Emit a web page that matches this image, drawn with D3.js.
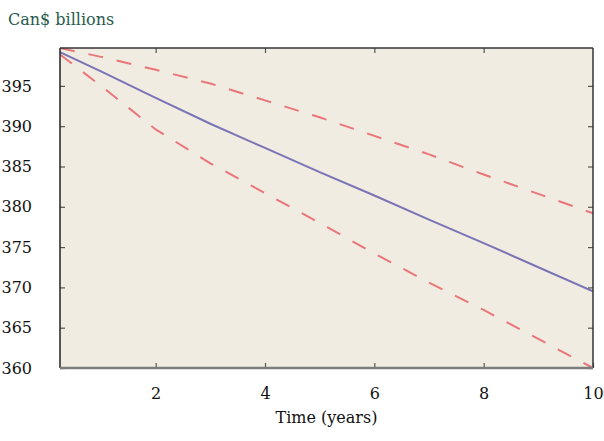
<!DOCTYPE html>
<html><head><meta charset="utf-8">
<script src="https://cdn.jsdelivr.net/npm/d3@7"></script>
<style>body{margin:0;background:#fff}svg{display:block}</style>
</head><body>
<script>
const times = [0.25, 1, 2, 3, 4, 5, 6, 7, 8, 9, 10];
const central = [399.2, 396.8, 393.5, 390.3, 387.3, 384.3, 381.4, 378.4, 375.5, 372.5, 369.5];
const upperBand = [399.7, 398.6, 397.0, 395.3, 393.2, 391.1, 388.8, 386.5, 384.0, 381.6, 379.2];
const lowerBand = [398.9, 395.0, 389.6, 385.4, 381.7, 378.0, 374.2, 370.6, 367.2, 363.6, 360.0];
const xTicks = [2, 4, 6, 8, 10];
const yTicks = [360, 365, 370, 375, 380, 385, 390, 395];
const title = "Can$ billions";
const xTitle = "Time (years)";

const W = 604, H = 441;
const L = 60, R = 593, T = 48, B = 368;
const font = "'DejaVu Serif', serif";

const svg = d3.select("body").append("svg").attr("width", W).attr("height", H);
const x = d3.scaleLinear().domain([0.25, 10]).range([L, R]);
const y = d3.scaleLinear().domain([360, 399.7]).range([B, T]);

svg.append("rect").attr("x", L).attr("y", T).attr("width", R - L).attr("height", B - T).attr("fill", "#f1ece1");

svg.append("clipPath").attr("id", "clip").append("rect")
  .attr("x", L).attr("y", T).attr("width", R - L).attr("height", B - T);

const line = d3.line().x(d => x(d[0])).y(d => y(d[1]));
const g = svg.append("g").attr("clip-path", "url(#clip)");
const mk = arr => times.map((t, i) => [t, arr[i]]);
g.append("path").attr("d", line(mk(upperBand))).attr("fill", "none")
  .attr("stroke", "#e8767a").attr("stroke-width", 2).attr("stroke-dasharray", "15,14");
g.append("path").attr("d", line(mk(lowerBand))).attr("fill", "none")
  .attr("stroke", "#e8767a").attr("stroke-width", 2).attr("stroke-dasharray", "15,14");
g.append("path").attr("d", line(mk(central))).attr("fill", "none")
  .attr("stroke", "#7a74b6").attr("stroke-width", 2);

function style(sel, showText) {
  sel.select(".domain").remove();
  sel.selectAll(".tick line").attr("stroke", "#555").attr("stroke-width", 1.2);
  sel.selectAll(".tick text").attr("fill", "#111").style("font-family", font).style("font-size", "16px");
  if (!showText) sel.selectAll(".tick text").remove();
}

svg.append("g").attr("transform", `translate(${L},0)`)
  .call(d3.axisLeft(y).tickValues(yTicks).tickSize(-5).tickPadding(28))
  .call(s => style(s, true));
svg.append("g").attr("transform", `translate(${R},0)`)
  .call(d3.axisRight(y).tickValues(yTicks).tickSize(-5))
  .call(s => style(s, false));
svg.append("g").attr("transform", `translate(0,${B})`)
  .call(d3.axisBottom(x).tickValues(xTicks).tickSize(-5).tickPadding(19.5))
  .call(s => style(s, true));
svg.append("g").attr("transform", `translate(0,${T})`)
  .call(d3.axisTop(x).tickValues(xTicks.slice(0, 4)).tickSize(-5))
  .call(s => style(s, false));

// frame
svg.append("line").attr("x1", L).attr("x2", L).attr("y1", T).attr("y2", B).attr("stroke", "#222").attr("stroke-width", 1.5);
svg.append("line").attr("x1", L).attr("x2", R).attr("y1", T).attr("y2", T).attr("stroke", "#333").attr("stroke-width", 1.5);
svg.append("line").attr("x1", R).attr("x2", R).attr("y1", T).attr("y2", B).attr("stroke", "#333").attr("stroke-width", 1.5);
svg.append("line").attr("x1", L).attr("x2", R).attr("y1", B).attr("y2", B).attr("stroke", "#7d7d7d").attr("stroke-width", 2.5);

svg.append("text").attr("x", 8).attr("y", 25).text(title)
  .style("font-family", font).style("font-size", "16px").attr("fill", "#285a4c");
svg.append("text").attr("x", (L + R) / 2).attr("y", 423).attr("text-anchor", "middle").text(xTitle)
  .style("font-family", font).style("font-size", "16px").attr("fill", "#111");
</script>
</body></html>
